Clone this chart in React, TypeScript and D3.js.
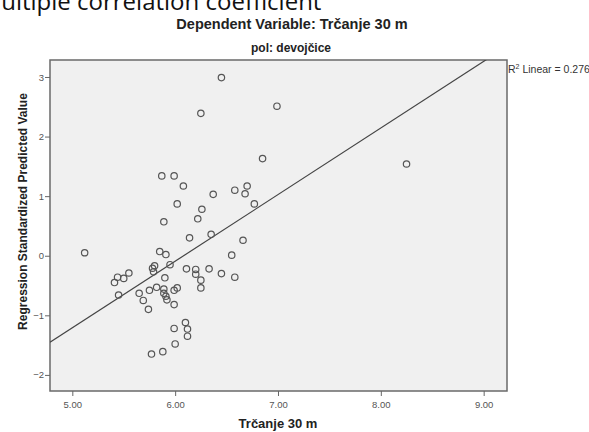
import React, { useEffect, useRef } from "react";
import * as d3 from "d3";

// Trčanje 30 m (seconds) vs. standardized predicted value, girls
const xValues = [
  6.25, 5.87, 5.99, 6.08, 6.02, 6.26, 6.45, 6.99, 6.85, 6.37, 6.58, 6.7, 6.68,
  6.77, 8.25, 6.22, 5.89, 6.14, 6.35, 5.12, 5.85, 5.91, 5.95, 5.8, 5.78, 5.79,
  6.11, 6.2, 6.2, 6.25, 6.25, 6.33, 6.45, 6.58, 6.55, 6.66, 5.55, 5.5, 5.44,
  5.41, 5.45, 5.9, 5.65, 5.75, 5.82, 5.89, 5.89, 5.91, 6.02, 5.99, 5.92, 5.99,
  5.69, 5.74, 6.1, 5.99, 6.12, 6.12, 6.0, 5.88, 5.77,
];
const yValues = [
  2.39, 1.34, 1.34, 1.17, 0.87, 0.78, 2.99, 2.51, 1.63, 1.03, 1.1, 1.17, 1.04,
  0.87, 1.54, 0.62, 0.57, 0.3, 0.36, 0.05, 0.07, 0.02, -0.15, -0.17, -0.21,
  -0.27, -0.22, -0.23, -0.31, -0.41, -0.54, -0.22, -0.3, -0.36, 0.01, 0.26,
  -0.29, -0.38, -0.36, -0.45, -0.66, -0.37, -0.63, -0.58, -0.53, -0.56, -0.63,
  -0.68, -0.54, -0.58, -0.74, -0.82, -0.75, -0.9, -1.12, -1.22, -1.23, -1.35,
  -1.48, -1.61, -1.65,
];
const xTicks = [5, 6, 7, 8, 9];
const yTicks = [-2, -1, 0, 1, 2, 3];
// fit line
const fitSlope = 1.118;
const fitIntercept = -6.8;
const rSquared = 0.276;

const App = () => {
  const ref = useRef(null);

  useEffect(() => {
    const svg = d3.select(ref.current);
    svg.selectAll("*").remove();

    const left = 50, right = 507, top = 60, bottom = 391;
    const x = d3.scaleLinear().domain([4.783, 9.227]).range([left, right]);
    const y = d3.scaleLinear().domain([-2.27, 3.285]).range([bottom, top]);
    const font = "'Liberation Sans', Arial, sans-serif";

    // cut-off slide text at the very top
    svg
      .append("text")
      .attr("x", -21)
      .attr("y", 10)
      .style("font-family", "'Open Sans', sans-serif")
      .style("font-size", "24px")
      .attr("fill", "#111")
      .text("multiple correlation coefficient");

    svg
      .append("text")
      .attr("x", 292)
      .attr("y", 29)
      .attr("text-anchor", "middle")
      .style("font-family", font)
      .style("font-weight", "bold")
      .style("font-size", "14.5px")
      .attr("fill", "#222")
      .text("Dependent Variable: Trčanje 30 m");

    svg
      .append("text")
      .attr("x", 291)
      .attr("y", 52)
      .attr("text-anchor", "middle")
      .style("font-family", font)
      .style("font-weight", "bold")
      .style("font-size", "12px")
      .attr("fill", "#222")
      .text("pol: devojčice");

    svg
      .append("rect")
      .attr("x", left)
      .attr("y", top)
      .attr("width", right - left)
      .attr("height", bottom - top)
      .attr("fill", "#f0f0f0")
      .attr("stroke", "#6a6a6a")
      .attr("stroke-width", 1.5);

    svg
      .append("clipPath")
      .attr("id", "plotclip")
      .append("rect")
      .attr("x", left)
      .attr("y", top)
      .attr("width", right - left)
      .attr("height", bottom - top);
    const g = svg.append("g").attr("clip-path", "url(#plotclip)");

    const x0 = x.domain()[0], x1 = x.domain()[1];
    g.append("line")
      .attr("x1", x(x0))
      .attr("y1", y(fitSlope * x0 + fitIntercept))
      .attr("x2", x(x1))
      .attr("y2", y(fitSlope * x1 + fitIntercept))
      .attr("stroke", "#444")
      .attr("stroke-width", 1.2);

    g.selectAll("circle")
      .data(xValues.map((v, i) => [v, yValues[i]]))
      .enter()
      .append("circle")
      .attr("cx", d => x(d[0]))
      .attr("cy", d => y(d[1]))
      .attr("r", 3.2)
      .attr("fill", "none")
      .attr("stroke", "#555")
      .attr("stroke-width", 1.2);

    const xAxis = svg
      .append("g")
      .attr("transform", `translate(0,${bottom})`)
      .call(d3.axisBottom(x).tickValues(xTicks).tickSize(5).tickFormat(d3.format(".2f")));
    const yAxis = svg
      .append("g")
      .attr("transform", `translate(${left},0)`)
      .call(d3.axisLeft(y).tickValues(yTicks).tickSize(5).tickFormat(d3.format("d")));

    [xAxis, yAxis].forEach(a => {
      a.select(".domain").remove();
      a.selectAll("line").attr("stroke", "#666");
      a.selectAll("text")
        .attr("fill", "#555")
        .style("font-family", font)
        .style("font-size", "9.5px");
    });
    yAxis.selectAll("text").attr("x", -6);
    xAxis.selectAll("text").attr("y", 10);

    svg
      .append("text")
      .attr("x", 278)
      .attr("y", 428)
      .attr("text-anchor", "middle")
      .style("font-family", font)
      .style("font-weight", "bold")
      .style("font-size", "13px")
      .attr("fill", "#222")
      .text("Trčanje 30 m");

    svg
      .append("text")
      .attr("transform", `translate(27,${(top + bottom) / 2 - 14}) rotate(-90)`)
      .attr("text-anchor", "middle")
      .style("font-family", font)
      .style("font-weight", "bold")
      .style("font-size", "12px")
      .attr("fill", "#222")
      .text("Regression Standardized Predicted Value");

    const r2 = svg
      .append("text")
      .attr("x", right + 1)
      .attr("y", 73)
      .style("font-family", font)
      .style("font-size", "10.5px")
      .attr("fill", "#333");
    r2.append("tspan").text("R");
    r2.append("tspan").attr("dy", -4).style("font-size", "7px").text("2");
    r2.append("tspan").attr("dy", 4).text(` Linear = ${rSquared}`);
  }, []);

  return (
    <svg
      ref={ref}
      width={589}
      height={432}
      style={{ position: "absolute", left: 0, top: 0, background: "#fff" }}
    />
  );
};

export default App;
